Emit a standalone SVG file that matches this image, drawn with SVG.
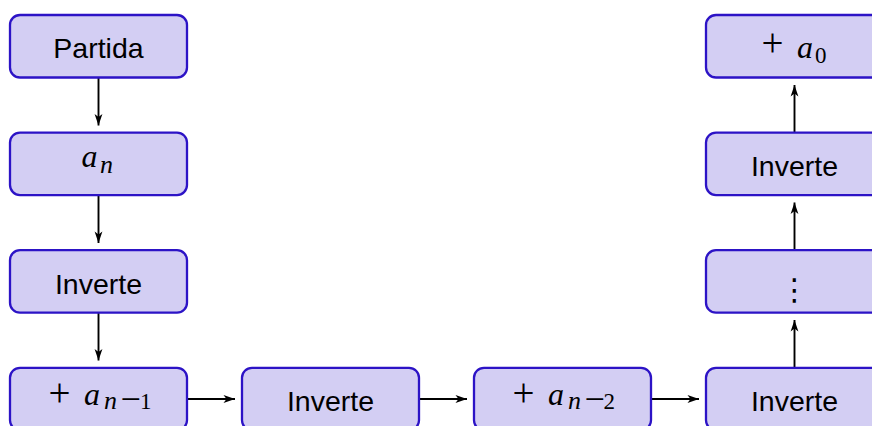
<svg xmlns="http://www.w3.org/2000/svg" width="872" height="426" viewBox="0 0 872 426">
<defs>
<marker id="ah" markerUnits="userSpaceOnUse" markerWidth="14" markerHeight="10" viewBox="-13 -5 14 10" refX="0" refY="0" orient="auto">
<path d="M0,0 L-11.5,-3.9 L-8.5,0 L-11.5,3.9 Z" fill="#000"/>
</marker>
<style>
.box{fill:#d3cef3;stroke:#2c13c6;stroke-width:2.3}
.t{font-family:"Liberation Sans","DejaVu Sans",sans-serif;font-size:28.5px;fill:#000;text-anchor:middle}
.m{font-family:"Liberation Serif","DejaVu Serif",serif;fill:#000}
.mi{font-style:italic}
.c line{stroke:#000;stroke-width:1.9;marker-end:url(#ah)}
</style>
</defs>
<rect width="872" height="426" fill="#fff"/>
<g class="c" id="connectors">
<line x1="98.5" y1="77.5" x2="98.5" y2="125.5"/>
<line x1="98.5" y1="195" x2="98.5" y2="243"/>
<line x1="98.5" y1="312.6" x2="98.5" y2="360.5"/>
<line x1="187" y1="399" x2="235" y2="399"/>
<line x1="419" y1="399" x2="467" y2="399"/>
<line x1="651" y1="399" x2="699" y2="399"/>
<line x1="794.5" y1="367.8" x2="794.5" y2="320"/>
<line x1="794.5" y1="250.2" x2="794.5" y2="202.5"/>
<line x1="794.5" y1="132.6" x2="794.5" y2="85"/>
</g>
<g id="partida">
<rect class="box" x="10" y="15" width="177" height="62.5" rx="10"/>
<text class="t" x="98.5" y="58.3">Partida</text>
</g>
<g id="an">
<rect class="box" x="10" y="132.6" width="177" height="62.5" rx="10"/>
<text class="m"><tspan class="mi" x="81.5" y="166.7" font-size="32">a</tspan><tspan class="mi" x="100" y="173.3" font-size="26">n</tspan></text>
</g>
<g id="inverte1">
<rect class="box" x="10" y="250.2" width="177" height="62.5" rx="10"/>
<text class="t" x="98.5" y="293.5">Inverte</text>
</g>
<g id="plus-an1">
<rect class="box" x="10" y="367.8" width="177" height="62.5" rx="10"/>
<text class="m"><tspan x="48.5" y="406" font-size="39">+</tspan><tspan class="mi" x="84" y="404.5" font-size="32">a</tspan><tspan class="mi" x="104" y="409.3" font-size="26">n</tspan><tspan x="120.5" y="410.5" font-size="36">−</tspan><tspan x="140" y="409.3" font-size="23">1</tspan></text>
</g>
<g id="inverte2">
<rect class="box" x="242" y="367.8" width="177" height="62.5" rx="10"/>
<text class="t" x="330.5" y="411">Inverte</text>
</g>
<g id="plus-an2">
<rect class="box" x="474" y="367.8" width="177" height="62.5" rx="10"/>
<text class="m"><tspan x="512.5" y="406" font-size="39">+</tspan><tspan class="mi" x="548" y="404.5" font-size="32">a</tspan><tspan class="mi" x="568" y="409.3" font-size="26">n</tspan><tspan x="584.5" y="410.5" font-size="36">−</tspan><tspan x="603.5" y="409.3" font-size="23">2</tspan></text>
</g>
<g id="inverte3">
<rect class="box" x="706" y="367.8" width="177" height="62.5" rx="10"/>
<text class="t" x="794.5" y="411">Inverte</text>
</g>
<g id="vdots">
<rect class="box" x="706" y="250.2" width="177" height="62.5" rx="10"/>
<text x="794.5" y="300" text-anchor="middle" font-family="DejaVu Sans" font-size="30" fill="#000">⋮</text>
</g>
<g id="inverte4">
<rect class="box" x="706" y="132.6" width="177" height="62.5" rx="10"/>
<text class="t" x="794.5" y="176">Inverte</text>
</g>
<g id="plus-a0">
<rect class="box" x="706" y="15" width="177" height="62.5" rx="10"/>
<text class="m"><tspan x="761.5" y="55.5" font-size="39">+</tspan><tspan class="mi" x="797" y="58.3" font-size="32">a</tspan><tspan x="815" y="63.3" font-size="23">0</tspan></text>
</g>
</svg>
